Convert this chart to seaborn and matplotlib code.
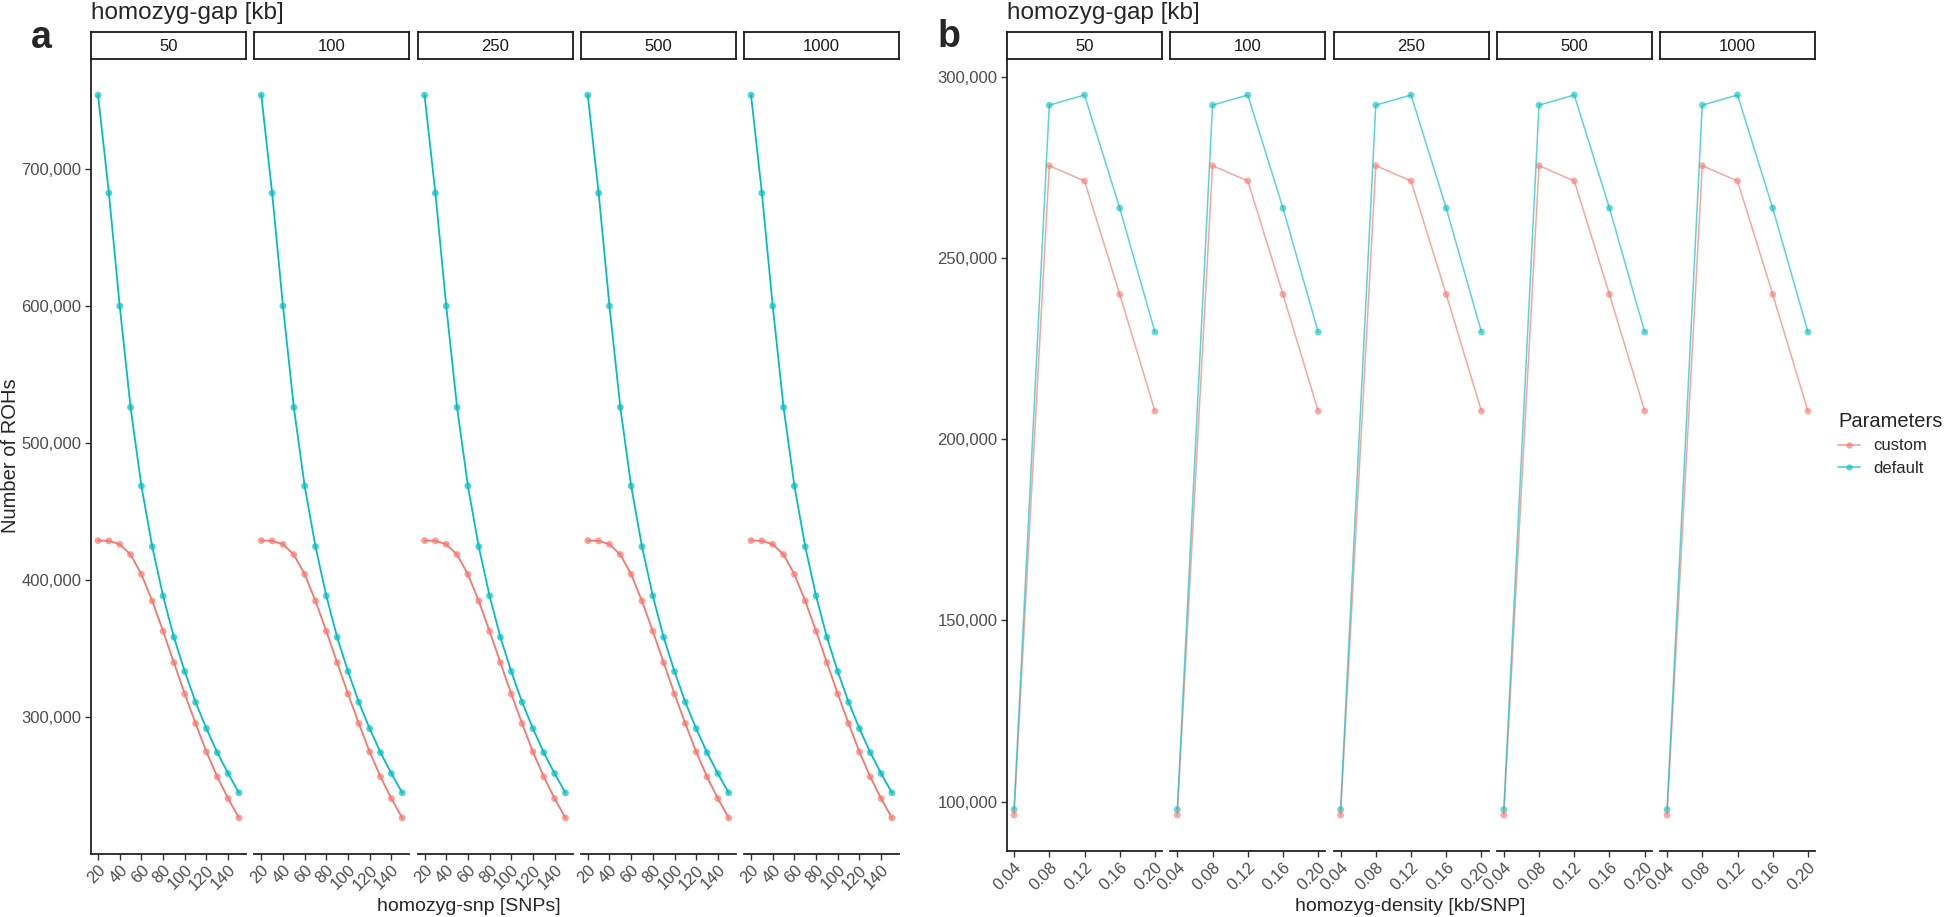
import matplotlib
matplotlib.use("Agg")
import matplotlib.pyplot as plt
import matplotlib.ticker as mticker
import matplotlib.transforms as mtransforms
from matplotlib.lines import Line2D
import pandas as pd
import seaborn as sns

# values (same in every homozyg-gap facet)
gaps = ["50", "100", "250", "500", "1000"]
params = ["custom", "default"]

snp = [20, 30, 40, 50, 60, 70, 80, 90, 100, 110, 120, 130, 140, 150]
snp_custom = [428700, 428500, 426000, 418500, 404100, 384600, 362500,
              339600, 316700, 295100, 274400, 256200, 240300, 226200]
snp_default = [754000, 682500, 600000, 526000, 468600, 424300, 388300,
               358100, 333100, 310700, 291400, 273900, 258600, 244500]

density = [0.04, 0.08, 0.12, 0.16, 0.20]
dens_custom = [96300, 275400, 271200, 239900, 207700]
dens_default = [97800, 292100, 294900, 263700, 229500]

snp_ticks = [20, 40, 60, 80, 100, 120, 140]
dens_ticks = [0.04, 0.08, 0.12, 0.16, 0.20]
snp_yticks = [300000, 400000, 500000, 600000, 700000]
dens_yticks = [100000, 150000, 200000, 250000, 300000]

pal = {"custom": "#F8766D", "default": "#00BFC4"}


def make_df(xs, custom, default, xname):
    rows = []
    for g in gaps:
        for p, vals in (("custom", custom), ("default", default)):
            for x, v in zip(xs, vals):
                rows.append({"gap": g, "Parameters": p, xname: x, "rohs": v})
    return pd.DataFrame(rows)


df_snp = make_df(snp, snp_custom, snp_default, "snp")
df_dens = make_df(density, dens_custom, dens_default, "density")

sns.set_theme(style="white")
plt.rcParams["font.family"] = ["Liberation Sans", "DejaVu Sans"]

W, H = 1944, 917
fig = plt.figure(figsize=(W / 100, H / 100), dpi=100)
shift = mtransforms.ScaledTranslation(5 / 100, 0, fig.dpi_scale_trans)


def px_axes(x0, y0, x1, y1):
    return fig.add_axes([x0 / W, 1 - y1 / H, (x1 - x0) / W, (y1 - y0) / H])


def expand(vals, frac=0.05):
    lo, hi = min(vals), max(vals)
    d = (hi - lo) * frac
    return lo - d, hi + d


def draw_panel(df, xcol, left0, bottom, xticks, xfmt, yticks, line_alpha, pt_alpha, lw):
    xlim = expand(df[xcol])
    ylim = expand(df["rohs"])
    for i, g in enumerate(gaps):
        x0 = left0 + i * 163.25
        x1 = x0 + 155
        ax = px_axes(x0, 59, x1, bottom)
        sub = df[df["gap"] == g]
        sns.lineplot(data=sub, x=xcol, y="rohs", hue="Parameters", hue_order=params,
                     palette=pal, linewidth=lw, alpha=line_alpha, ax=ax, legend=False)
        sns.scatterplot(data=sub, x=xcol, y="rohs", hue="Parameters", hue_order=params,
                        palette=pal, s=24, linewidth=0, alpha=pt_alpha, ax=ax, legend=False)
        ax.set_xlim(xlim)
        ax.set_ylim(ylim)
        ax.set_xticks(xticks)
        ax.set_xticklabels([xfmt(t) for t in xticks], rotation=45, ha="right",
                           va="top", rotation_mode="anchor")
        for lab in ax.get_xticklabels():
            lab.set_transform(lab.get_transform() + shift)
        ax.set_xlabel("")
        ax.set_ylabel("")
        ax.set_facecolor("white")
        for s in ("top", "right"):
            ax.spines[s].set_visible(False)
        ax.spines["bottom"].set_color("#222222")
        ax.spines["bottom"].set_linewidth(1.3)
        if i == 0:
            ax.spines["left"].set_color("#222222")
            ax.spines["left"].set_linewidth(1.3)
            ax.set_yticks(yticks)
            ax.yaxis.set_major_formatter(mticker.StrMethodFormatter("{x:,.0f}"))
            ax.tick_params(axis="y", left=True, length=4, width=1, color="#333333",
                           labelsize=12, labelcolor="#4D4D4D", pad=3)
        else:
            ax.spines["left"].set_visible(False)
            ax.set_yticks([])
        ax.tick_params(axis="x", bottom=True, length=4, width=1, color="#333333",
                       labelsize=12, labelcolor="#4D4D4D", pad=2)
        # facet strip
        st = px_axes(x0, 32, x1, 59)
        st.set_xticks([])
        st.set_yticks([])
        st.set_facecolor("white")
        for s in st.spines.values():
            s.set_visible(True)
            s.set_color("#1A1A1A")
            s.set_linewidth(1.3)
        st.text(0.5, 0.45, g, ha="center", va="center", fontsize=12, color="#1A1A1A",
                transform=st.transAxes)


draw_panel(df_snp, "snp", 91, 854, snp_ticks, lambda t: str(t), snp_yticks,
           1.0, 0.7, 1.3)
draw_panel(df_dens, "density", 1007, 851, dens_ticks, lambda t: f"{t:.2f}", dens_yticks,
           0.65, 0.6, 1.1)

# titles and labels
fig.text(91 / W, 1 - 19 / H, "homozyg-gap [kb]", fontsize=17.5, va="baseline", ha="left")
fig.text(1007 / W, 1 - 19 / H, "homozyg-gap [kb]", fontsize=17.5, va="baseline", ha="left")
fig.text(31 / W, 1 - 48 / H, "a", fontsize=27, fontweight="bold", va="baseline", ha="left")
fig.text(938 / W, 1 - 47 / H, "b", fontsize=27, fontweight="bold", va="baseline", ha="left")
fig.text(469 / W, 1 - 911 / H, "homozyg-snp [SNPs]", fontsize=14, va="baseline", ha="center")
fig.text(1410 / W, 1 - 911 / H, "homozyg-density [kb/SNP]", fontsize=14, va="baseline",
         ha="center")
fig.text(11 / W, 1 - 456 / H, "Number of ROHs", fontsize=14.5, rotation=90, va="center",
         ha="center")

handles = [Line2D([0], [0], color=pal[p], lw=1.3, alpha=0.65, marker="o", markersize=4.5,
                  markeredgewidth=0) for p in params]
leg = fig.legend(handles, params, title="Parameters", loc="upper left",
                 bbox_to_anchor=(1838 / W, 1 - 412 / H), frameon=False, fontsize=12,
                 title_fontsize=14.5, handlelength=1.3, handletextpad=0.8, labelspacing=0.45,
                 borderpad=0, borderaxespad=0)
leg._legend_box.align = "left"

fig.savefig("out.png", dpi=100, facecolor="white")
